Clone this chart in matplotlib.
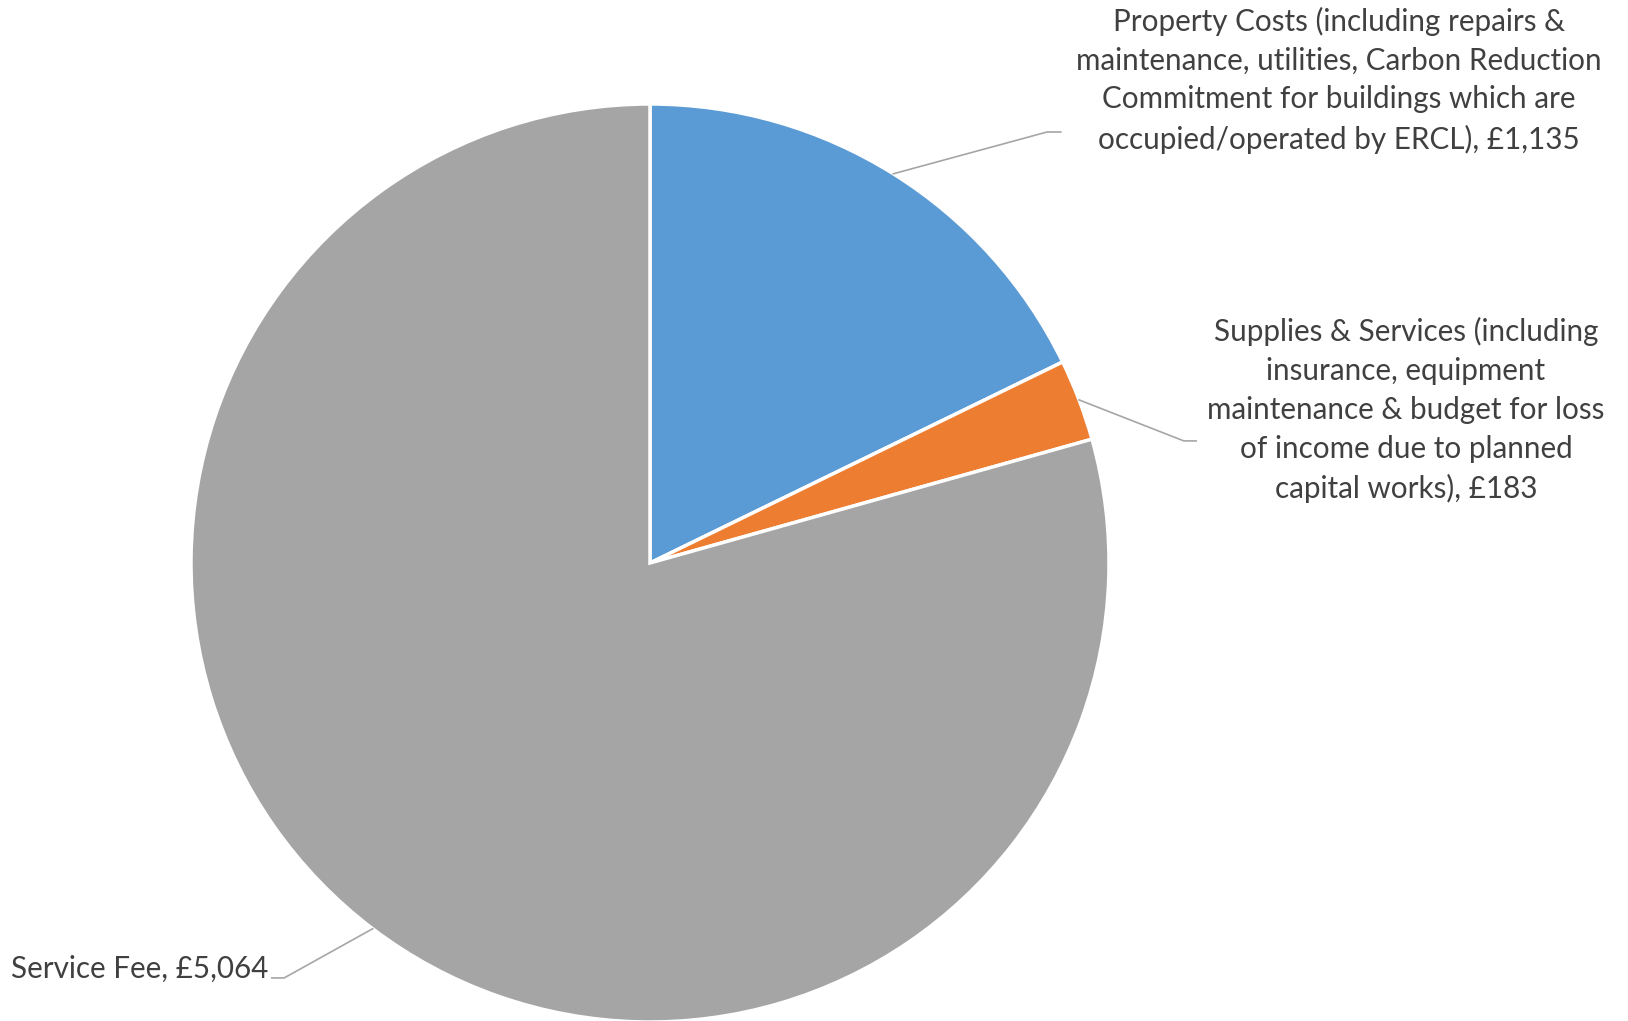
import numpy as np
import matplotlib
matplotlib.use("Agg")
import matplotlib.pyplot as plt

plt.rcParams['font.family'] = ['Lato', 'DejaVu Sans']

labels = [
    "Property Costs (including repairs &\nmaintenance, utilities, Carbon Reduction\nCommitment for buildings which are\noccupied/operated by ERCL), £1,135",
    "Supplies & Services (including\ninsurance, equipment\nmaintenance & budget for loss\nof income due to planned\ncapital works), £183",
    "Service Fee, £5,064",
]
values = [1135, 183, 5064]
colors = ["#5B9BD5", "#ED7D31", "#A5A5A5"]

W, H = 1628, 1021
fig = plt.figure(figsize=(W / 100, H / 100), dpi=100)

# pie centre and radius in pixels
cx, cy, r = 650, 563, 459
ax = fig.add_axes([(cx - r) / W, (H - cy - r) / H, 2 * r / W, 2 * r / H])
wedges, _ = ax.pie(values, colors=colors, startangle=90, counterclock=False,
                   radius=1, wedgeprops=dict(edgecolor="white", linewidth=2.5))
ax.set_xlim(-1, 1)
ax.set_ylim(-1, 1)
ax.set_aspect("equal")
ax.axis("off")

# leader lines: elbow (x, y) and end x, in radius units; text anchor in pixels
leaders = [
    ((0.865, 0.939), 0.895, (1339, 80), "center"),
    ((1.163, 0.266), 1.19, (1406, 410), "center"),
    ((-0.797, -0.904), -0.824, (268, 969), "right"),
]

for w, lab, (elbow, xend, (tx, ty), ha) in zip(wedges, labels, leaders):
    mid = np.deg2rad((w.theta1 + w.theta2) / 2)
    ex, ey = np.cos(mid), np.sin(mid)
    ax.plot([ex, elbow[0], xend], [ey, elbow[1], elbow[1]], color="#A6A6A6",
            lw=1.2, clip_on=False)
    fig.text(tx / W, 1 - ty / H, lab, ha=ha, va="center", multialignment="center",
             fontsize=21.3, color="#404040", linespacing=1.47)

fig.savefig("out.png", dpi=100, facecolor="white")
